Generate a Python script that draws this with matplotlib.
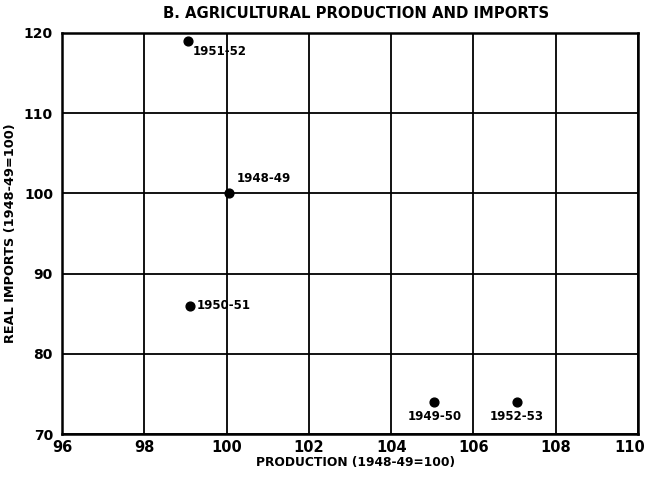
import matplotlib.pyplot as plt
import matplotlib.transforms as mtransforms

# Agricultural production vs real imports (1948-49 = 100)
years = ['1948-49', '1949-50', '1950-51', '1951-52', '1952-53']
production = [100.05, 105.05, 99.1, 99.05, 107.05]
imports = [100, 74, 86, 119, 74]

# label offsets in points and alignment per year
offsets = {'1948-49': (6, 6, 'left', 'bottom'),
           '1949-50': (0, -6, 'center', 'top'),
           '1950-51': (5, 0, 'left', 'center'),
           '1951-52': (4, -3, 'left', 'top'),
           '1952-53': (0, -6, 'center', 'top')}

plt.rcParams['font.family'] = 'DejaVu Sans'
plt.rcParams['font.weight'] = 'bold'

fig = plt.figure(figsize=(6.48, 4.78), dpi=100)
ax = fig.add_axes([0.0957, 0.092, 0.889, 0.839])

ax.scatter(production, imports, s=40, color='black', zorder=3)
for yr, x, y in zip(years, production, imports):
    dx, dy, ha, va = offsets[yr]
    ax.annotate(yr, (x, y), xytext=(dx, dy), textcoords='offset points',
                ha=ha, va=va, fontsize=8.5, fontweight='bold')

ax.set_xlim(96, 110)
ax.set_ylim(70, 120)
ax.set_xticks(range(96, 111, 2))
ax.set_yticks(range(70, 121, 10))
ax.grid(True, color='black', linewidth=1.3)
for s in ax.spines.values():
    s.set_linewidth(1.8)
ax.tick_params(axis='x', length=0, labelsize=10.5, pad=4)
ax.tick_params(axis='y', length=0, labelsize=10, pad=6.5)
for lbl in ax.get_xticklabels() + ax.get_yticklabels():
    lbl.set_fontweight('bold')

# keep the last x label inside the figure, as in the original
last = ax.get_xticklabels()[-1]
last.set_horizontalalignment('right')
last.set_transform(last.get_transform() +
                   mtransforms.ScaledTranslation(7 / 100, 0, fig.dpi_scale_trans))

ax.set_xlabel('PRODUCTION (1948-49=100)', fontsize=8.8, fontweight='bold', labelpad=1)
ax.xaxis.set_label_coords(0.51, -0.055)
ax.set_ylabel('REAL IMPORTS (1948-49=100)', fontsize=9.3, fontweight='bold')
ax.yaxis.set_label_coords(-0.078, 0.5)
ax.set_title('B. AGRICULTURAL PRODUCTION AND IMPORTS', fontsize=10.7,
             fontweight='bold', pad=11, x=0.51)

fig.savefig('out.png', dpi=100)
